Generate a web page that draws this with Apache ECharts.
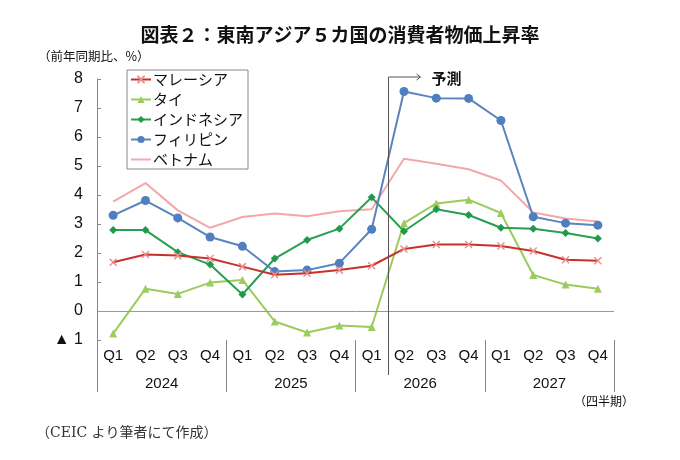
<!DOCTYPE html>
<html>
<head>
<meta charset="utf-8">
<script src="https://cdn.jsdelivr.net/npm/echarts@6/dist/echarts.min.js"></script>
<style>
  html, body { margin: 0; padding: 0; background: #fff; }
  #chart { width: 680px; height: 460px; }
</style>
</head>
<body>
<div id="chart"></div>
<script>
const quarters = ["Q1", "Q2", "Q3", "Q4", "Q1", "Q2", "Q3", "Q4", "Q1", "Q2", "Q3", "Q4", "Q1", "Q2", "Q3", "Q4"];
const years = ["2024", "2025", "2026", "2027"];

const malaysia = [1.68, 1.95, 1.91, 1.81, 1.53, 1.25, 1.30, 1.41, 1.56, 2.14, 2.29, 2.29, 2.24, 2.07, 1.77, 1.73];
const thailand = [-0.78, 0.77, 0.59, 0.98, 1.07, -0.36, -0.74, -0.50, -0.55, 3.03, 3.71, 3.84, 3.38, 1.24, 0.91, 0.77];
const indonesia = [2.79, 2.79, 2.03, 1.60, 0.57, 1.81, 2.45, 2.84, 3.92, 2.75, 3.51, 3.31, 2.87, 2.84, 2.69, 2.50];
const philippines = [3.30, 3.81, 3.21, 2.55, 2.23, 1.36, 1.41, 1.65, 2.82, 7.57, 7.34, 7.33, 6.57, 3.25, 3.03, 2.96];
const vietnam = [3.77, 4.41, 3.47, 2.87, 3.24, 3.36, 3.27, 3.44, 3.51, 5.25, 5.08, 4.89, 4.50, 3.40, 3.19, 3.09];

const forecastStart = 9; // 予測は2026 Q2から

const narrow = "'Liberation Sans Narrow', 'Liberation Sans', Arial, sans-serif";
const jp = "'Noto Sans CJK JP', sans-serif";

const chart = echarts.init(document.getElementById("chart"));

const crossPath = "path://M0,0L10,10M10,0L0,10";

const option = {
  animation: false,
  title: {
    text: "図表２：東南アジア５カ国の消費者物価上昇率",
    left: "center",
    top: 20,
    textStyle: { fontFamily: jp, fontSize: 19, fontWeight: "bold", color: "#111" },
  },
  legend: {
    orient: "vertical",
    left: 127,
    top: 70,
    padding: [2, 5, 2, 3],
    itemGap: 5,
    itemWidth: 20,
    itemHeight: 9,
    borderColor: "#888",
    borderWidth: 1,
    backgroundColor: "#fff",
    textStyle: { fontFamily: jp, fontSize: 15, color: "#111", padding: [0, 0, 0, -3] },
    data: [
      "マレーシア",
      "タイ",
      "インドネシア",
      "フィリピン",
      { name: "ベトナム", itemStyle: { opacity: 0 } },
    ],
  },
  grid: { left: 97, right: 66, top: 79, bottom: 120, containLabel: false },
  xAxis: [
    {
      type: "category",
      data: quarters,
      position: "bottom",
      offset: 0,
      axisLine: { show: false },
      axisTick: { show: false },
      axisLabel: { margin: 8, fontFamily: narrow, fontSize: 15, color: "#111" },
    },
    {
      type: "category",
      data: years,
      position: "bottom",
      offset: 0,
      axisLine: { show: false },
      axisTick: { show: true, length: 52, lineStyle: { color: "#888", width: 1 } },
      axisLabel: { margin: 36, fontFamily: narrow, fontSize: 15, color: "#111" },
    },
  ],
  yAxis: {
    type: "value",
    min: -1,
    max: 8,
    interval: 1,
    axisLine: { show: true, lineStyle: { color: "#888" } },
    axisTick: { show: true, inside: true, length: 4, lineStyle: { color: "#888" } },
    splitLine: { show: false },
    axisLabel: {
      margin: 14,
      fontFamily: narrow,
      fontSize: 16,
      color: "#111",
      formatter: (v) => (v < 0 ? "▲ " + Math.abs(v) : String(v)),
    },
  },
  series: [
    {
      name: "マレーシア",
      type: "line",
      data: malaysia,
      symbol: crossPath,
      symbolSize: 7,
      lineStyle: { color: "#C8302C", width: 2 },
      itemStyle: { color: "#F2B4B4", borderColor: "#E89090", borderWidth: 1.5 },
      z: 5,
      markLine: {
        silent: true,
        symbol: "none",
        label: { show: false },
        lineStyle: { color: "#999", width: 1, type: "solid" },
        data: [{ yAxis: 0 }],
      },
    },
    {
      name: "タイ",
      type: "line",
      data: thailand,
      symbol: "triangle",
      symbolSize: 8,
      lineStyle: { color: "#9CCB5E", width: 2 },
      itemStyle: { color: "#9CCB5E" },
      z: 4,
    },
    {
      name: "インドネシア",
      type: "line",
      data: indonesia,
      symbol: "diamond",
      symbolSize: 8,
      lineStyle: { color: "#2A9E52", width: 2 },
      itemStyle: { color: "#1F9A4A" },
      z: 4,
    },
    {
      name: "フィリピン",
      type: "line",
      data: philippines,
      symbol: "circle",
      symbolSize: 9,
      lineStyle: { color: "#5A84BD", width: 2 },
      itemStyle: { color: "#4F7FC0" },
      z: 4,
    },
    {
      name: "ベトナム",
      type: "line",
      data: vietnam,
      symbol: "none",
      lineStyle: { color: "#F3A7AA", width: 2 },
      itemStyle: { color: "#F3A7AA" },
      z: 3,
    },
  ],
};

chart.setOption(option);

// 予測の区切り線と矢印（位置は軸から換算）
const xa = chart.convertToPixel({ xAxisIndex: 0 }, forecastStart - 1);
const xb = chart.convertToPixel({ xAxisIndex: 0 }, forecastStart);
const xSep = Math.round((xa + xb) / 2) + 0.5;
const yTop = chart.convertToPixel({ yAxisIndex: 0 }, 8) - 2;
const yBottom = chart.convertToPixel({ yAxisIndex: 0 }, -1) + 35;

chart.setOption({
  graphic: [
    {
      type: "line",
      shape: { x1: xSep, y1: yTop, x2: xSep, y2: yBottom },
      style: { stroke: "#555", lineWidth: 1 },
      z: 10,
    },
    {
      type: "line",
      shape: { x1: xSep, y1: yTop, x2: xSep + 32, y2: yTop },
      style: { stroke: "#555", lineWidth: 1 },
      z: 10,
    },
    {
      type: "polyline",
      shape: { points: [[xSep + 28, yTop - 3], [xSep + 32, yTop], [xSep + 28, yTop + 3]] },
      style: { stroke: "#555", lineWidth: 1, fill: null },
      z: 10,
    },
    {
      type: "text",
      left: xSep + 43,
      top: yTop - 6,
      style: { text: "予測", fontFamily: jp, fontSize: 15, fontWeight: "bold", fill: "#111" },
      z: 10,
    },
    {
      type: "text",
      left: 38,
      top: 50,
      style: { text: "（前年同期比、%）", fontFamily: jp, fontSize: 12.5, fill: "#111" },
    },
    {
      type: "text",
      left: 574,
      top: 395,
      style: { text: "（四半期）", fontFamily: jp, fontSize: 12, fill: "#111" },
    },
    {
      type: "text",
      left: 36,
      top: 426,
      style: { text: "（CEIC より筆者にて作成）", fontFamily: "'DejaVu Serif', 'Noto Sans CJK JP', serif", fontSize: 14, fill: "#333" },
    },
  ],
});

window.addEventListener("resize", () => chart.resize());
</script>
</body>
</html>
